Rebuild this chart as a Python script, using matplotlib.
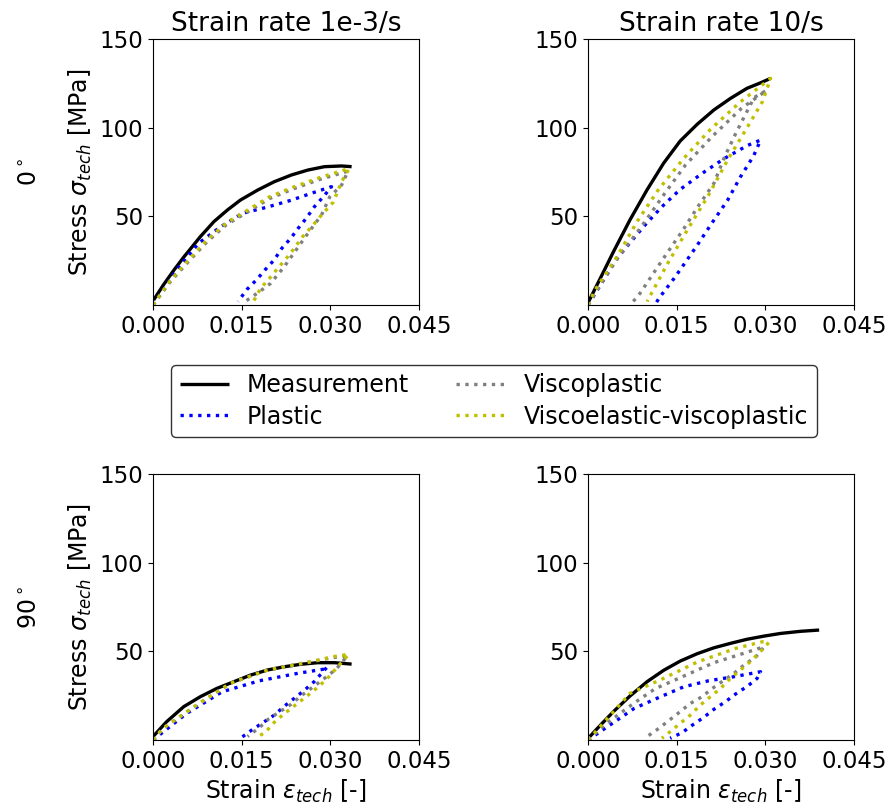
import matplotlib
matplotlib.use("Agg")
import matplotlib.pyplot as plt

# ---------------- data ----------------
col_titles = ["Strain rate 1e-3/s", "Strain rate 10/s"]
row_labels = ["0$^\\circ$", "90$^\\circ$"]
x_ticks = [0.000, 0.015, 0.030, 0.045]
y_ticks = [50, 100, 150]

# Panel 0deg, 1e-3/s
m00_x = [0.0001, 0.0018, 0.0035, 0.0052, 0.0063, 0.0080, 0.0103, 0.0126, 0.0148, 0.0177, 0.0205, 0.0234, 0.0262, 0.0290, 0.0319, 0.0336]
m00_y = [2.8, 11.5, 19.5, 27.0, 31.5, 38.5, 47.0, 53.6, 59.2, 64.8, 69.5, 73.3, 76.1, 78.0, 78.4, 78.0]
p00_x = [0.0, 0.0040, 0.0077, 0.0114, 0.0151, 0.0191, 0.0233, 0.0276, 0.0302, 0.0288, 0.0273, 0.0259, 0.0245, 0.0233, 0.0218, 0.0205, 0.0190, 0.0176, 0.0159, 0.0144]
p00_y = [0.0, 19.7, 34.8, 44.0, 51.7, 55.0, 59.0, 63.9, 66.7, 61.0, 55.4, 48.8, 43.0, 37.6, 32.0, 25.4, 20.0, 14.5, 8.8, 2.0]
v00_x = [0.0, 0.0029, 0.0060, 0.0091, 0.0123, 0.0160, 0.0197, 0.0239, 0.0282, 0.0330, 0.0319, 0.0299, 0.0285, 0.0262, 0.0242, 0.0222, 0.0199, 0.0178, 0.0156]
v00_y = [0.0, 13.0, 24.5, 35.5, 45.0, 52.5, 60.0, 65.7, 70.8, 75.5, 67.6, 61.0, 50.7, 40.4, 31.0, 21.6, 12.2, 7.0, 2.0]
e00_x = [0.0, 0.0029, 0.0060, 0.0091, 0.0123, 0.0160, 0.0197, 0.0239, 0.0282, 0.0332, 0.0319, 0.0305, 0.0285, 0.0268, 0.0253, 0.0239, 0.0225, 0.0211, 0.0197, 0.0182, 0.0170]
e00_y = [0.0, 13.7, 25.4, 36.6, 46.0, 53.5, 61.0, 66.7, 71.8, 77.0, 69.5, 58.0, 50.7, 44.0, 38.5, 32.0, 26.0, 20.7, 15.0, 9.4, 2.0]

# Panel 0deg, 10/s
m01_x = [0.0001, 0.0020, 0.0043, 0.0071, 0.0100, 0.0128, 0.0156, 0.0185, 0.0213, 0.0241, 0.0269, 0.0292, 0.0309]
m01_y = [1.9, 14.5, 30.0, 48.0, 65.0, 80.0, 92.5, 102.0, 110.0, 116.5, 122.2, 125.3, 127.8]
p01_x = [0.0, 0.0049, 0.0094, 0.0125, 0.0156, 0.0193, 0.0231, 0.0270, 0.0292, 0.0280, 0.0258, 0.0236, 0.0210, 0.0185, 0.0147, 0.0120, 0.0115]
p01_y = [0.0, 26.3, 44.2, 55.4, 65.2, 74.2, 82.7, 90.0, 93.0, 84.0, 72.3, 59.0, 46.4, 33.8, 15.6, 3.8, 1.0]
v01_x = [0.0, 0.0045, 0.0090, 0.0130, 0.0165, 0.0210, 0.0260, 0.0302, 0.0281, 0.0250, 0.0230, 0.0213, 0.0187, 0.0162, 0.0125, 0.0088, 0.0074]
v01_y = [0.0, 24.0, 44.0, 63.0, 79.0, 95.0, 111.0, 121.0, 117.0, 96.8, 82.7, 68.6, 56.0, 43.0, 25.0, 6.6, 1.0]
e01_x = [0.0, 0.0012, 0.0049, 0.0083, 0.0119, 0.0162, 0.0207, 0.0258, 0.0309, 0.0295, 0.0270, 0.0236, 0.0204, 0.0168, 0.0134, 0.0100]
e01_y = [0.0, 8.5, 27.2, 47.0, 65.0, 82.7, 99.0, 114.6, 127.8, 114.6, 100.5, 81.7, 62.0, 42.3, 23.0, 2.0]

# Panel 90deg, 1e-3/s
m10_x = [0.0, 0.0023, 0.0052, 0.0080, 0.0108, 0.0137, 0.0165, 0.0194, 0.0222, 0.0250, 0.0279, 0.0307, 0.0336]
m10_y = [1.9, 10.3, 18.8, 24.4, 29.1, 32.9, 36.6, 39.5, 41.3, 42.7, 43.6, 43.6, 42.8]
p10_x = [0.0, 0.0057, 0.0117, 0.0180, 0.0245, 0.0290, 0.0295, 0.0273, 0.0256, 0.0239, 0.0222, 0.0205, 0.0186, 0.0167, 0.0148]
p10_y = [0.0, 15.0, 27.2, 33.4, 37.6, 40.0, 41.3, 33.0, 28.0, 23.5, 19.0, 14.0, 9.8, 5.6, 1.0]
v10_x = [0.0, 0.0017, 0.0074, 0.0131, 0.0194, 0.0259, 0.0305, 0.0329, 0.0310, 0.0287, 0.0267, 0.0250, 0.0233, 0.0213, 0.0196, 0.0180, 0.0160]
v10_y = [0.0, 6.6, 19.7, 32.0, 39.5, 43.6, 46.5, 47.5, 40.0, 34.0, 29.0, 24.8, 20.0, 15.6, 12.0, 7.0, 2.0]
e10_x = [0.0, 0.0017, 0.0074, 0.0131, 0.0194, 0.0259, 0.0305, 0.0331, 0.0293, 0.0276, 0.0259, 0.0242, 0.0225, 0.0208, 0.0191, 0.0174]
e10_y = [0.0, 6.6, 19.7, 32.0, 39.5, 43.6, 47.0, 48.3, 34.0, 29.0, 24.4, 20.0, 15.6, 11.0, 4.7, 1.0]

# Panel 90deg, 10/s
m11_x = [0.0003, 0.0020, 0.0043, 0.0071, 0.0100, 0.0128, 0.0156, 0.0185, 0.0213, 0.0241, 0.0269, 0.0298, 0.0326, 0.0360, 0.0391]
m11_y = [1.9, 8.0, 16.0, 24.8, 32.9, 39.3, 44.5, 48.7, 52.0, 54.5, 56.8, 58.6, 60.1, 61.3, 62.0]
p11_x = [0.0, 0.0055, 0.0078, 0.0120, 0.0162, 0.0204, 0.0247, 0.0292, 0.0286, 0.0270, 0.0250, 0.0233, 0.0213, 0.0196, 0.0177, 0.0159, 0.0139]
p11_y = [0.0, 12.5, 17.8, 24.0, 30.0, 33.4, 35.7, 38.5, 34.7, 30.4, 26.0, 21.7, 17.3, 12.8, 8.5, 4.1, 1.0]
v11_x = [0.0, 0.0030, 0.0077, 0.0114, 0.0153, 0.0213, 0.0255, 0.0298, 0.0284, 0.0264, 0.0247, 0.0227, 0.0210, 0.0193, 0.0173, 0.0156, 0.0138, 0.0120, 0.0102]
v11_y = [0.0, 9.0, 20.6, 29.0, 34.7, 43.6, 48.0, 52.6, 46.9, 42.3, 37.6, 33.0, 29.0, 24.4, 20.6, 16.0, 11.3, 6.6, 2.4]
e11_x = [0.0, 0.0018, 0.0071, 0.0125, 0.0185, 0.0250, 0.0295, 0.0306, 0.0292, 0.0275, 0.0258, 0.0241, 0.0224, 0.0207, 0.0190, 0.0173, 0.0156, 0.0139, 0.0125]
e11_y = [0.0, 6.6, 26.3, 34.3, 44.0, 51.7, 55.4, 55.0, 50.0, 44.3, 39.5, 34.8, 29.0, 24.4, 19.7, 14.0, 9.4, 4.7, 1.0]

panels = [
    [(m00_x, m00_y, p00_x, p00_y, v00_x, v00_y, e00_x, e00_y),
     (m01_x, m01_y, p01_x, p01_y, v01_x, v01_y, e01_x, e01_y)],
    [(m10_x, m10_y, p10_x, p10_y, v10_x, v10_y, e10_x, e10_y),
     (m11_x, m11_y, p11_x, p11_y, v11_x, v11_y, e11_x, e11_y)],
]

series_names = ["Measurement", "Plastic", "Viscoplastic", "Viscoelastic-viscoplastic"]

# ---------------- figure ----------------
W, H = 888, 807
fig = plt.figure(figsize=(W / 100, H / 100), dpi=100)
FS_TICK = 16.5
FS_LAB = 17
FS_TITLE = 19

lefts = [153, 588]
tops = [39, 474]
aw, ah = 266, 266

handles = None
for r in range(2):
    for c in range(2):
        ax = fig.add_axes([lefts[c] / W, 1 - (tops[r] + ah) / H, aw / W, ah / H])
        mx, my, px, py, vx, vy, ex, ey = panels[r][c]
        h1, = ax.plot(mx, my, color="black", lw=2.4, solid_capstyle="butt")
        h2, = ax.plot(px, py, color="blue", lw=2.4, ls=":")
        h3, = ax.plot(vx, vy, color="gray", lw=2.4, ls=":")
        h4, = ax.plot(ex, ey, color="#c0c000", lw=2.4, ls=":")
        handles = [h1, h2, h3, h4]
        ax.set_xlim(0, 0.045)
        ax.set_ylim(0, 150)
        ax.set_xticks(x_ticks)
        ax.set_xticklabels([f"{t:.3f}" for t in x_ticks])
        ax.set_yticks(y_ticks)
        ax.tick_params(labelsize=FS_TICK)
        if r == 0:
            ax.set_title(col_titles[c], fontsize=FS_TITLE)
        if c == 0:
            ax.set_ylabel("Stress $\\sigma_{tech}$ [MPa]", fontsize=FS_LAB)
        if r == 1:
            ax.set_xlabel("Strain $\\varepsilon_{tech}$ [-]", fontsize=FS_LAB)

for r, lab in enumerate(row_labels):
    fig.text(30 / W, 1 - (tops[r] + 133) / H, lab, rotation=90, fontsize=FS_LAB,
             ha="center", va="center")

leg = fig.legend(handles, series_names, ncol=2, loc="center",
                 bbox_to_anchor=(494 / W, 1 - 401 / H), fontsize=FS_LAB,
                 frameon=True, edgecolor="black", handlelength=2.1,
                 handletextpad=0.75, columnspacing=2.0,
                 borderpad=0.35, labelspacing=0.3)
leg.get_frame().set_linewidth(1.0)

fig.savefig("out.png", dpi=100)
